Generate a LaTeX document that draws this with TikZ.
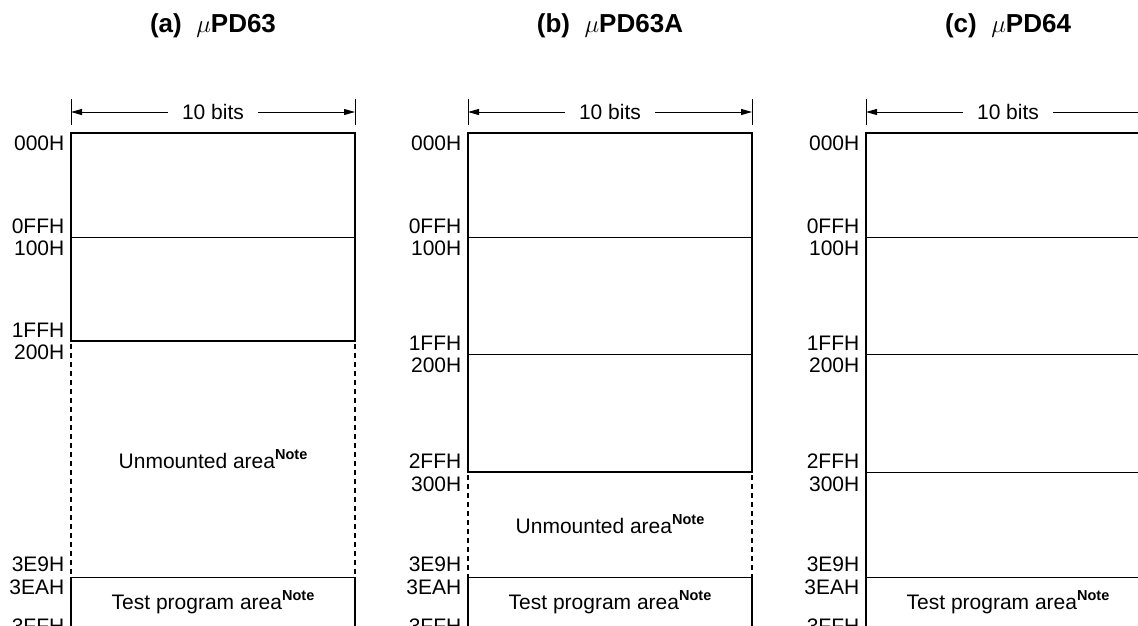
\documentclass[tikz,border=0pt]{standalone}
\usepackage{fontspec}
\setmainfont{Liberation Sans}
\usetikzlibrary{arrows.meta}
\newcommand{\notesup}{\raisebox{9pt}{\fontsize{14.5}{16}\selectfont\bfseries Note}}
\begin{document}
\begin{tikzpicture}[x=1pt,y=-1pt,
  lbl/.style={anchor=base east, inner sep=0pt, font=\fontsize{21}{24}\selectfont},
  txt/.style={anchor=base, inner sep=0pt, font=\fontsize{21}{24}\selectfont},
  ttl/.style={anchor=base, inner sep=0pt, font=\fontsize{26}{30}\selectfont\bfseries},
  dimtxt/.style={inner xsep=14pt, inner ysep=0pt, font=\fontsize{21}{24}\selectfont},
  thickb/.style={line width=2pt, line join=miter},
  thinl/.style={line width=1pt},
  dotb/.style={line width=2.5pt, dash pattern=on 5pt off 4pt},
  dimline/.style={line width=1pt, -{Triangle[length=11pt,width=6pt]}},
  dimtick/.style={line width=0.8pt}
]
\useasboundingbox (0,0) rectangle (1138,625);
\clip (0,0) rectangle (1138,625);

% ---------------- Panel (a) ----------------
\node[ttl] (ta) at (213,32) {(a)~~$\mu$PD63};
\draw[dimtick] (71,99) -- (71,125);
\draw[dimtick] (355,99) -- (355,125);
\coordinate (aL) at (71,112);
\coordinate (aR) at (355,112);
\node[dimtxt] (da) at (213,112) {10 bits};
\draw[dimline] (da.west) -- (aL);
\draw[dimline] (da.east) -- (aR);
\draw[thinl] (71,237) -- (355,237);
\draw[thickb] (71,341) -- (71,133) -- (355,133) -- (355,341) -- cycle;
\draw[dotb] (71,344) -- (71,577);
\draw[dotb] (355,344) -- (355,577);
\draw[thinl] (71,577) -- (355,577);
\draw[thickb] (71,577) -- (71,640);
\draw[thickb] (355,577) -- (355,640);
\node[txt] (ua) at (213,468) {Unmounted area\notesup};
\node[txt] (pa) at (213,609.5) {Test program area\notesup};
\foreach \t/\y [count=\i] in {000H/150,0FFH/233,100H/255.5,1FFH/337,200H/359.5,3E9H/571,3EAH/594,3FFH/633}
  \node[lbl] (la\i) at (64.5,\y) {\t};

% ---------------- Panel (b) ----------------
\node[ttl] (tb) at (610,32) {(b)~~$\mu$PD63A};
\draw[dimtick] (468,99) -- (468,125);
\draw[dimtick] (752,99) -- (752,125);
\coordinate (bL) at (468,112);
\coordinate (bR) at (752,112);
\node[dimtxt] (db) at (610,112) {10 bits};
\draw[dimline] (db.west) -- (bL);
\draw[dimline] (db.east) -- (bR);
\draw[thinl] (468,237) -- (752,237);
\draw[thinl] (468,354) -- (752,354);
\draw[thickb] (468,472) -- (468,133) -- (752,133) -- (752,472) -- cycle;
\draw[dotb] (468,475) -- (468,577);
\draw[dotb] (752,475) -- (752,577);
\draw[thinl] (468,577) -- (752,577);
\draw[thickb] (468,577) -- (468,640);
\draw[thickb] (752,577) -- (752,640);
\node[txt] (ub) at (610,533) {Unmounted area\notesup};
\node[txt] (pb) at (610,609.5) {Test program area\notesup};
\foreach \t/\y [count=\i] in {000H/150,0FFH/233,100H/255.5,1FFH/350,200H/372.5,2FFH/468,300H/491,3E9H/571,3EAH/594,3FFH/633}
  \node[lbl] (lb\i) at (461.5,\y) {\t};

% ---------------- Panel (c) ----------------
\node[ttl] (tc) at (1008,32) {(c)~~$\mu$PD64};
\draw[dimtick] (866,99) -- (866,125);
\draw[dimtick] (1150,99) -- (1150,125);
\coordinate (cL) at (866,112);
\coordinate (cR) at (1150,112);
\node[dimtxt] (dc) at (1008,112) {10 bits};
\draw[dimline] (dc.west) -- (cL);
\draw[dimline] (dc.east) -- (cR);
\draw[thinl] (866,237) -- (1150,237);
\draw[thinl] (866,354) -- (1150,354);
\draw[thinl] (866,472) -- (1150,472);
\draw[thinl] (866,577) -- (1150,577);
\draw[thickb] (866,640) -- (866,133) -- (1150,133) -- (1150,640);
\node[txt] (pc) at (1008,609.5) {Test program area\notesup};
\foreach \t/\y [count=\i] in {000H/150,0FFH/233,100H/255.5,1FFH/350,200H/372.5,2FFH/468,300H/491,3E9H/571,3EAH/594,3FFH/633}
  \node[lbl] (lc\i) at (859.5,\y) {\t};
\end{tikzpicture}
\end{document}
